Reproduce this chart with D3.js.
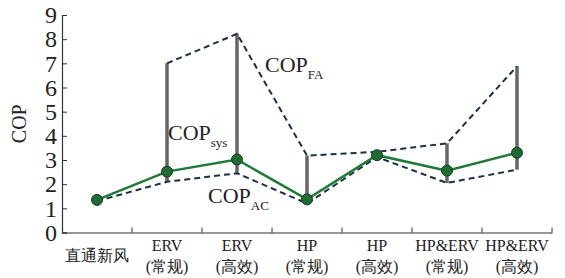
<!DOCTYPE html>
<html>
<head>
<meta charset="utf-8">
<script src="https://cdn.jsdelivr.net/npm/d3@7"></script>
<style>
  .serif { font-family: "Liberation Serif", "Times New Roman", serif; }
</style>
</head>
<body style="margin:0;background:#fff">
<div id="chart"></div>
<script>
//data
const categories = ["直通新风", "ERV|(常规)", "ERV|(高效)", "HP|(常规)", "HP|(高效)", "HP&ERV|(常规)", "HP&ERV|(高效)"];
const copSys = [1.35, 2.52, 3.02, 1.37, 3.2, 2.56, 3.3];
const copAC = [1.3, 2.1, 2.45, 1.2, 3.12, 2.05, 2.6];
const copFA = [null, 7.0, 8.22, 3.18, 3.34, 3.69, 6.88];
const yTicks = [0, 1, 2, 3, 4, 5, 6, 7, 8, 9];

const margin = { top: 15, right: 13, bottom: 45.5, left: 62 };
const width = 565 - margin.left - margin.right;
const height = 278 - margin.top - margin.bottom;

const root = d3
  .select("#chart")
  .append("svg")
  .attr("class", "serif")
  .attr("width", 565)
  .attr("height", 278);
const svg = root
  .append("g")
  .attr("transform", `translate(${margin.left}, ${margin.top})`);

const x = d3.scaleBand().domain(categories).range([0, width]);
const y = d3.scaleLinear().domain([0, 9]).range([height, 0]);
const cx = (i) => x(categories[i]) + x.bandwidth() / 2;

//axes
const gy = svg
  .append("g")
  .call(d3.axisLeft(y).tickValues(yTicks).tickSize(-5).tickPadding(5))
  .attr("font-family", null)
  .attr("font-size", 24)
  .call((g) => g.select(".domain").attr("stroke", "#333").attr("stroke-width", 1.2));
gy.selectAll(".tick line").attr("stroke", "#333");

const gx = svg
  .append("g")
  .attr("transform", `translate(0, ${height})`)
  .call(d3.axisBottom(x).tickSize(0).tickFormat(""))
  .call((g) => g.select(".domain").attr("stroke", "#333").attr("stroke-width", 1.2));

//band boundary ticks pointing up
svg
  .selectAll(".xtick")
  .data(categories)
  .enter()
  .append("line")
  .attr("class", "xtick")
  .attr("x1", (d) => x(d) + x.bandwidth())
  .attr("x2", (d) => x(d) + x.bandwidth())
  .attr("y1", height)
  .attr("y2", height - 5)
  .attr("stroke", "#333");

//x labels (two lines)
const xl = svg
  .selectAll(".xlabel")
  .data(categories)
  .enter()
  .append("text")
  .attr("class", "xlabel serif")
  .attr("text-anchor", "middle")
  .attr("font-size", 16);
xl.each(function (d) {
  const parts = d.split("|");
  const t = d3.select(this);
  const xc = x(d) + x.bandwidth() / 2;
  if (parts.length === 1) {
    t.append("tspan").attr("x", xc).attr("y", height + 28).text(parts[0]);
  } else {
    t.append("tspan").attr("x", xc).attr("y", height + 18).text(parts[0]);
    t.append("tspan").attr("x", xc).attr("y", height + 39).text(parts[1]);
  }
});

//y title
svg
  .append("text")
  .attr("class", "serif")
  .attr("transform", `translate(-36, ${y(4.5)}) rotate(-90)`)
  .attr("text-anchor", "middle")
  .attr("font-size", 20)
  .text("COP");

//gray range bars from AC to FA
svg
  .selectAll(".range")
  .data(copFA.map((d, i) => ({ i, lo: copAC[i], hi: d })).filter((d) => d.hi !== null))
  .enter()
  .append("line")
  .attr("class", "range")
  .attr("x1", (d) => cx(d.i))
  .attr("x2", (d) => cx(d.i))
  .attr("y1", (d) => y(d.lo))
  .attr("y2", (d) => y(d.hi))
  .attr("stroke", "#666")
  .attr("stroke-width", 3.5);

//dashed lines
const line = d3
  .line()
  .defined((d) => d !== null)
  .x((d, i) => cx(i))
  .y((d) => y(d));

[copAC, copFA].forEach((s) => {
  svg
    .append("path")
    .datum(s)
    .attr("d", line)
    .attr("fill", "none")
    .attr("stroke", "#1b3047")
    .attr("stroke-width", 2)
    .attr("stroke-dasharray", "6,4");
});

//system line and dots
svg
  .append("path")
  .datum(copSys)
  .attr("d", line)
  .attr("fill", "none")
  .attr("stroke", "#1f7a36")
  .attr("stroke-width", 2.5);

svg
  .selectAll(".dot")
  .data(copSys)
  .enter()
  .append("circle")
  .attr("class", "dot")
  .attr("cx", (d, i) => cx(i))
  .attr("cy", (d) => y(d))
  .attr("r", 5.5)
  .attr("fill", "#1e6b33")
  .attr("stroke", "#1a3a24")
  .attr("stroke-width", 1);

//series labels
const labels = [
  { main: "COP", sub: "FA", x: 203, y: 57 },
  { main: "COP", sub: "sys", x: 106, y: 125 },
  { main: "COP", sub: "AC", x: 146, y: 188 },
];
labels.forEach((l) => {
  const t = svg
    .append("text")
    .attr("class", "serif")
    .attr("x", l.x)
    .attr("y", l.y)
    .attr("font-size", 22);
  t.append("tspan").text(l.main);
  t.append("tspan").attr("dy", 7).attr("font-size", 13).text(l.sub);
});

svg.selectAll("text").attr("fill", "#222");
</script>
</body>
</html>
